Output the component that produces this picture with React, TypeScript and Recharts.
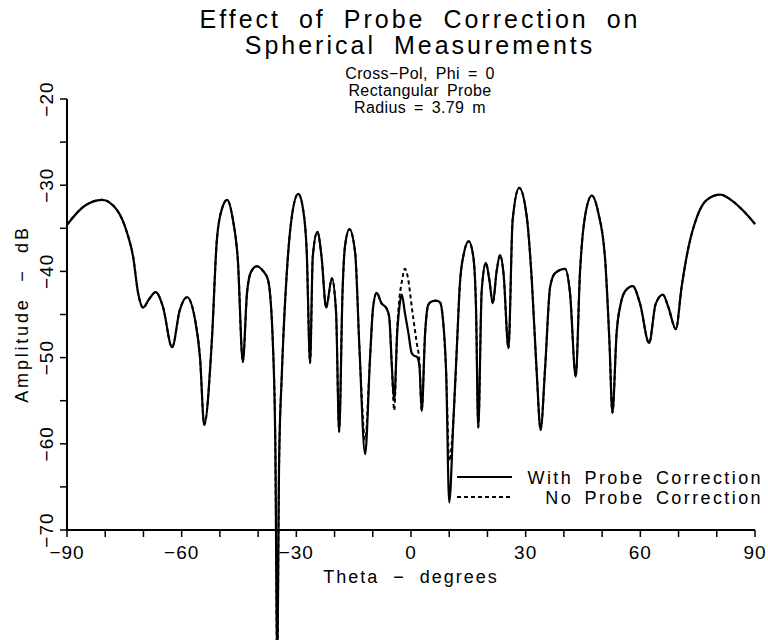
import React from 'react';
import { LineChart, Line, XAxis, YAxis, Legend } from 'recharts';

// Theta (degrees) sample points
const thetaDeg = [
  -90, -85.7, -80.8, -76.9, -74.3, -72.7, -71.4, -70.1, -68.5, -66.8, -64.9, -62.5, -60.5, -58.6, -56.5, -55.2, -54.1,
  -52.1, -50.8, -49.5, -48.1, -46.6, -45.3, -44.0, -42.9, -41.8, -40.3, -38.8, -37.4, -36.1, -35.5, -35.0, -34.5,
  -33.8, -32.5, -31.2, -29.5, -28.2, -27.3, -26.4, -25.7, -24.5, -23.4, -22.2, -20.7, -19.6, -18.8, -17.9, -17.3,
  -16.1, -14.6, -13.5, -12.0, -10.7, -9.9, -9.0, -7.7, -6.4, -5.7, -5.0, -4.4, -3.6, -3.0, -2.4, -1.6, -0.7, 0.2,
  0.9, 1.5, 2.2, 2.8, 3.7, 4.5, 5.4, 6.5, 7.6, 8.3, 9.2, 10.0, 11.1, 12.0, 12.8, 13.8, 15.1, 16.3, 17.0, 17.6,
  18.5, 19.6, 20.5, 21.4, 22.4, 23.3, 24.2, 25.5, 26.6, 28.3, 30.3, 31.6, 32.9, 33.9, 35.1, 36.4, 37.7, 40.3,
  41.6, 43.1, 44.2, 45.5, 47.3, 49.0, 50.8, 51.9, 52.7, 53.8, 54.9, 56.0, 58.0, 59.9, 62.3, 64.0, 65.9, 67.3,
  69.3, 70.8, 72.6, 74.8, 77.4, 80.9, 84.3, 87.0, 90.0,
];

// Amplitude (dB) with probe correction
const withProbeCorrection = [
  -34.6, -32.5, -31.7, -32.9, -35.5, -38.3, -42.5, -44.2, -43.2, -42.4, -44.1, -48.8, -44.5, -43.0, -45.6, -50.0, -57.8,
  -48.0, -36.4, -32.8, -31.7, -34.0, -38.7, -50.5, -42.5, -40.0, -39.4, -39.9, -41.0, -48.8, -60.0, -85.0, -62.0,
  -52.0, -40.2, -33.7, -31.0, -32.9, -37.5, -50.6, -38.3, -35.4, -38.3, -44.2, -40.8, -44.8, -58.6, -42.2, -37.2,
  -35.1, -37.9, -48.8, -61.2, -49.9, -44.1, -42.5, -43.7, -44.3, -45.3, -51.1, -55.0, -47.1, -44.0, -42.7, -44.8, -47.1, -49.5,
  -49.8, -49.9, -50.9, -56.2, -47.1, -43.9, -43.5, -43.4, -43.6, -45.3, -51.8, -66.8, -57.2, -48.8, -41.4, -38.0, -36.5, -38.3, -44.1, -58.1,
  -42.2, -39.0, -41.0, -43.7, -40.0, -38.1, -40.2, -48.9, -34.0, -30.3, -33.7, -41.0, -51.8, -58.4, -51.1, -41.8, -40.2, -39.7,
  -42.5, -52.2, -40.2, -33.7, -31.2, -33.2, -38.7, -48.0, -56.4, -47.1, -43.7, -42.3, -41.7, -43.7, -48.3, -43.8, -42.7, -44.1,
  -46.7, -41.8, -37.2, -33.7, -31.7, -31.1, -31.9, -33.0, -34.5,
];

// Amplitude (dB) without probe correction
const noProbeCorrection = [
  -34.6, -32.5, -31.7, -32.9, -35.5, -38.3, -42.5, -44.2, -43.2, -42.4, -44.1, -48.8, -44.5, -43.0, -45.6, -50.0, -57.8,
  -48.0, -36.4, -32.8, -31.7, -34.0, -38.7, -50.5, -42.5, -40.0, -39.4, -39.9, -41.0, -48.8, -60.0, -85.0, -62.0,
  -52.0, -40.2, -33.7, -31.0, -32.9, -37.5, -50.6, -38.3, -35.4, -38.3, -44.2, -40.8, -44.8, -58.6, -42.2, -37.2,
  -35.1, -37.9, -48.8, -59.5, -49.9, -44.1, -42.5, -43.7, -44.3, -45.3, -51.1, -56.1, -46.5, -43.0, -41.2, -39.7, -41.0, -44.1,
  -46.4, -48.3, -50.5, -56.2, -47.1, -43.9, -43.5, -43.4, -43.6, -45.3, -51.8, -62.0, -57.2, -48.8, -41.4, -38.0, -36.5, -38.3, -44.1, -58.1,
  -42.2, -39.0, -41.0, -43.7, -40.0, -38.1, -40.2, -48.9, -34.0, -30.3, -33.7, -41.0, -51.8, -58.4, -51.1, -41.8, -40.2, -39.7,
  -42.5, -52.2, -40.2, -33.7, -31.2, -33.2, -38.7, -48.0, -56.4, -47.1, -43.7, -42.3, -41.7, -43.7, -48.3, -43.8, -42.7, -44.1,
  -46.7, -41.8, -37.2, -33.7, -31.7, -31.1, -31.9, -33.0, -34.5,
];

const xTicks = [-90, -80, -70, -60, -50, -40, -30, -20, -10, 0, 10, 20, 30, 40, 50, 60, 70, 80, 90];
const xLabelTicks = [-90, -60, -30, 0, 30, 60, 90];
const yTicks = [-70, -65, -60, -55, -50, -45, -40, -35, -30, -25, -20];
const yLabelTicks = [-70, -60, -50, -40, -30, -20];

const titleLines = ['Effect of Probe Correction on', 'Spherical Measurements'];
const subtitleLines = ['Cross\u2212Pol, Phi = 0', 'Rectangular Probe', 'Radius = 3.79 m'];
const seriesNames = ['With Probe Correction', 'No Probe Correction'];

const data = thetaDeg.map((t, i) => ({ theta: t, withPC: withProbeCorrection[i], noPC: noProbeCorrection[i] }));

const FONT = '"Liberation Sans", Arial, sans-serif';

const fmt = (v: number) => (v < 0 ? '\u2212' + Math.abs(v) : String(v));

const XTick = (props: any) => {
  const { x, payload } = props;
  if (!xLabelTicks.includes(payload.value)) return <g />;
  return (
    <text x={x} y={559} textAnchor="middle" fontFamily={FONT} fontSize={19} letterSpacing={1} fill="#000">
      {fmt(payload.value)}
    </text>
  );
};

const YTick = (props: any) => {
  const { y, payload } = props;
  if (!yLabelTicks.includes(payload.value)) return <g />;
  const bx = 53;
  return (
    <text
      x={bx}
      y={y}
      transform={`rotate(-90, ${bx}, ${y})`}
      textAnchor="middle"
      fontFamily={FONT}
      fontSize={19}
      letterSpacing={1}
      fill="#000"
    >
      {fmt(payload.value)}
    </text>
  );
};

const LegendBox = () => (
  <svg width={768} height={640} style={{ position: 'absolute', left: 0, top: 0 }}>
    <line x1={457} x2={512} y1={477} y2={477} stroke="#000" strokeWidth={2} />
    <line x1={457} x2={512} y1={497} y2={497} stroke="#000" strokeWidth={2} strokeDasharray="4 3" />
    <text x={763} y={484} textAnchor="end" fontFamily={FONT} fontSize={18} letterSpacing={2.4} wordSpacing={4} fill="#000">
      {seriesNames[0]}
    </text>
    <text x={763} y={504} textAnchor="end" fontFamily={FONT} fontSize={18} letterSpacing={2.4} wordSpacing={4} fill="#000">
      {seriesNames[1]}
    </text>
  </svg>
);

export default function App() {
  return (
    <div style={{ position: 'absolute', left: 0, top: 0, width: 768, height: 640, background: '#fff', overflow: 'hidden' }}>
      <style>{`.recharts-line, .recharts-line-curve { clip-path: none !important; }`}</style>
      <LineChart width={768} height={640} data={data} margin={{ top: 99, right: 13, bottom: 80, left: 7 }}>
        <XAxis
          dataKey="theta"
          type="number"
          domain={[-90, 90]}
          ticks={xTicks}
          tick={<XTick />}
          tickSize={7}
          height={30}
          axisLine={{ stroke: '#000', strokeWidth: 2 }}
          tickLine={{ stroke: '#000', strokeWidth: 1.5 }}
          interval={0}
        />
        <YAxis
          type="number"
          domain={[-70, -20]}
          allowDataOverflow
          ticks={yTicks}
          tick={<YTick />}
          tickSize={7}
          width={60}
          axisLine={{ stroke: '#000', strokeWidth: 2 }}
          tickLine={{ stroke: '#000', strokeWidth: 1.5 }}
          interval={0}
        />
        <Line
          dataKey="noPC"
          name={seriesNames[1]}
          type="monotone"
          stroke="#000"
          strokeWidth={2}
          strokeDasharray="4 3"
          dot={false}
          isAnimationActive={false}
        />
        <Line
          dataKey="withPC"
          name={seriesNames[0]}
          type="monotone"
          stroke="#000"
          strokeWidth={2.2}
          dot={false}
          isAnimationActive={false}
        />
        <Legend
          layout="horizontal"
          verticalAlign="middle"
          align="center"
          wrapperStyle={{ position: 'absolute', left: 0, top: 0, width: 768, height: 640, pointerEvents: 'none' }}
          content={<LegendBox />}
        />
      </LineChart>
      <div
        style={{
          position: 'absolute', left: 100, top: 6, width: 640, textAlign: 'center',
          fontFamily: FONT, fontSize: 25, lineHeight: '26px', letterSpacing: 3, wordSpacing: 8, color: '#000',
        }}
      >
        {titleLines.map((t) => (
          <div key={t}>{t}</div>
        ))}
      </div>
      <div
        style={{
          position: 'absolute', left: 220, top: 65, width: 400, textAlign: 'center', whiteSpace: 'pre',
          fontFamily: FONT, fontSize: 16, lineHeight: '17px', letterSpacing: 0.4, wordSpacing: 3, color: '#000',
        }}
      >
        {subtitleLines.map((t) => (
          <div key={t}>{t}</div>
        ))}
      </div>
      <div
        style={{
          position: 'absolute', left: 22 - 150, top: 314 - 12, width: 300, height: 24, lineHeight: '24px',
          textAlign: 'center', transform: 'rotate(-90deg)', whiteSpace: 'pre',
          fontFamily: FONT, fontSize: 18, letterSpacing: 2.8, color: '#000',
        }}
      >
        {'Amplitude  \u2212  dB'}
      </div>
      <div
        style={{
          position: 'absolute', left: 261, top: 565, width: 300, textAlign: 'center', whiteSpace: 'pre',
          fontFamily: FONT, fontSize: 18, lineHeight: '24px', letterSpacing: 2, color: '#000',
        }}
      >
        {'Theta  \u2212  degrees'}
      </div>
    </div>
  );
}
